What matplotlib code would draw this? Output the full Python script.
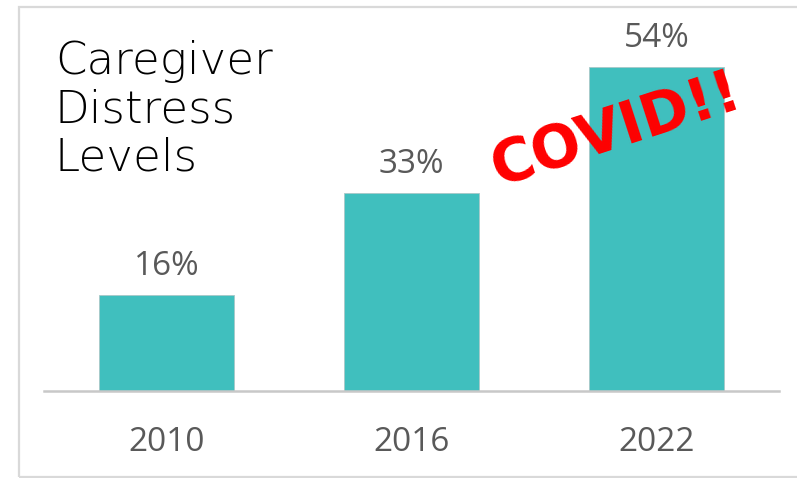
import matplotlib
matplotlib.use("Agg")
import matplotlib.pyplot as plt
from matplotlib.patches import Rectangle

categories = ["2010", "2016", "2022"]
values = [16, 33, 54]
value_labels = ["16%", "33%", "54%"]
title_text = "Caregiver\nDistress\nLevels"
annot_text = "COVID!!"

W, H = 797, 478
fig = plt.figure(figsize=(W / 100, H / 100), dpi=100)

# outer chart border
fig.patches.append(Rectangle((19 / W, 1 / H), 1.0, 1 - 8 / H, transform=fig.transFigure,
                             fill=False, edgecolor="#D9D9D9", linewidth=1.6, clip_on=False))

ax = fig.add_axes([44 / W, (H - 391) / H, 735 / W, 360 / H])
x = list(range(len(categories)))
ax.bar(x, values, width=0.547, color="#40BFBE", edgecolor="#A8C8C8", linewidth=0.6, zorder=2)
ax.set_xlim(-0.5, 2.5)
ax.set_ylim(0, 60)
for s in ["top", "left", "right"]:
    ax.spines[s].set_visible(False)
ax.spines["bottom"].set_color("#C8C8C8")
ax.spines["bottom"].set_linewidth(1.8)
ax.set_yticks([])
ax.set_xticks(x)
ax.set_xticklabels(categories, fontsize=24, color="#595959", family="Open Sans")
ax.tick_params(axis="x", length=0, pad=25.5)

for xi, v, lab in zip(x, values, value_labels):
    ax.annotate(lab, (xi, v), xytext=(0, 14.4), textcoords="offset points",
                ha="center", va="baseline", fontsize=24, color="#595959", family="Open Sans")

fig.text(55 / W, 1 - 40 / H, title_text, ha="left", va="top", fontsize=32.5,
         family="DejaVu Sans", fontweight="light", color="black", linespacing=1.15)

fig.text(616 / W, 1 - 130 / H, annot_text, ha="center", va="center", rotation=18,
         rotation_mode="anchor", fontsize=42, fontweight="bold", family="DejaVu Sans",
         color="#FF0000", zorder=5)

fig.savefig("out.png", dpi=100)
